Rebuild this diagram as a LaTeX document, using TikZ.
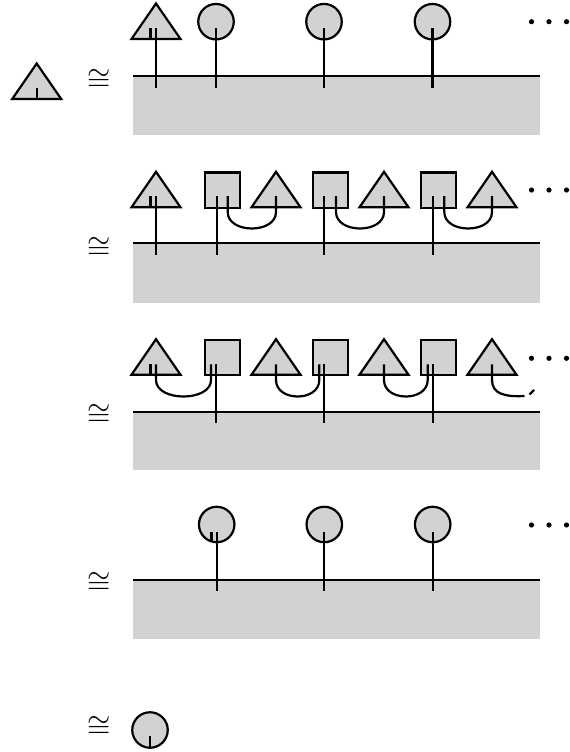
\documentclass[tikz,border=0pt]{standalone}
\definecolor{shade}{RGB}{210,210,210}
\tikzset{
  shp/.style={draw=black, fill=shade, line width=2.2pt},
  ball/.style={shp, circle, minimum size=35.5pt, inner sep=0pt},
  box/.style={shp, rectangle, minimum width=35.2pt, minimum height=35.2pt, inner sep=0pt},
  wire/.style={draw=black, line width=2.2pt},
  band/.style={fill=shade},
  bandline/.style={draw=black, line width=2.2pt},
  dotmark/.style={fill=black, circle, inner sep=0pt, minimum size=5.2pt},
  iso/.style={inner sep=0pt}
}
% triangle: name, x of apex, y of base
\newcommand\mytri[3]{%
  \draw[shp] (#2-24.5,#3) -- (#2,#3-35.5) -- (#2+24.5,#3) -- cycle;
  \coordinate (#1) at (#2,#3);}
\newcommand\mydots[2]{%
  \node[dotmark] (#1a) at (531.5,#2) {};
  \node[dotmark] (#1b) at (549,#2) {};
  \node[dotmark] (#1c) at (566.5,#2) {};}
\newcommand\bigcong{\scalebox{3}{$\cong$}}
\begin{document}
\begin{tikzpicture}[x=1pt,y=-1pt]
\useasboundingbox (0,0) rectangle (570,752);

% ---------- row 1 ----------
\mytri{t0}{36.7}{99}
\draw[wire] (36.7,88) coordinate (t0s) -- (t0);
\node[iso] (eq1) at (98.7,80) {\bigcong};
\fill[band] (133,76) rectangle (540,135);
\draw[bandline] (133,76) coordinate (l1a) -- (540,76) coordinate (l1b);
\mytri{t1}{156}{39}
\node[ball] (c11) at (216,21.7) {};
\node[ball] (c12) at (324,21.7) {};
\node[ball] (c13) at (432.5,21.7) {};
\draw[wire] (150.5,28) -- (150.5,39);
\draw[wire] (156,28) -- (156,88);
\draw[wire] (216,28) -- (216,88);
\draw[wire] (324,28) -- (324,88);
\draw[wire] (432.5,28) -- (432.5,88);
\mydots{d1}{21.7}

% ---------- row 2 ----------
\node[iso] (eq2) at (98.7,248) {\bigcong};
\fill[band] (133,243.3) rectangle (540,303);
\draw[bandline] (133,243.3) -- (540,243.3);
\mytri{t21}{156}{207.3}
\mytri{t22}{276}{207.3}
\mytri{t23}{384}{207.3}
\mytri{t24}{492}{207.3}
\node[box] (s21) at (222.3,190) {};
\node[box] (s22) at (330.3,190) {};
\node[box] (s23) at (438.3,190) {};
\draw[wire] (150.5,196) -- (150.5,207.3);
\draw[wire] (156,196) -- (156,255);
\draw[wire] (216.7,196) -- (216.7,255);
\draw[wire] (324.3,196) -- (324.3,255);
\draw[wire] (432.7,196) -- (432.7,255);
\draw[wire] (227.7,196) -- (227.7,212) .. controls (227.7,234) and (276,234) .. (276,212) -- (276,196);
\draw[wire] (336,196) -- (336,212) .. controls (336,234) and (384,234) .. (384,212) -- (384,196);
\draw[wire] (444.3,196) -- (444.3,212) .. controls (444.3,234) and (492,234) .. (492,212) -- (492,196);
\mydots{d2}{190}

% ---------- row 3 ----------
\node[iso] (eq3) at (98.7,415) {\bigcong};
\fill[band] (133,411.7) rectangle (540,470);
\draw[bandline] (133,411.7) -- (540,411.7);
\mytri{t31}{156}{374.7}
\mytri{t32}{276}{374.7}
\mytri{t33}{384}{374.7}
\mytri{t34}{492}{374.7}
\node[box] (s31) at (222.3,357.5) {};
\node[box] (s32) at (330.3,357.5) {};
\node[box] (s33) at (438.3,357.5) {};
\draw[wire] (150.5,364.3) -- (150.5,374.7);
\draw[wire] (156,364.3) -- (156,380) .. controls (156,402) and (211,402) .. (211,380) -- (211,364.3);
\draw[wire] (276,364.3) -- (276,380) .. controls (276,402) and (319.3,402) .. (319.3,380) -- (319.3,364.3);
\draw[wire] (384,364.3) -- (384,380) .. controls (384,402) and (427.7,402) .. (427.7,380) -- (427.7,364.3);
\draw[wire] (216.3,364.3) -- (216.3,423.3);
\draw[wire] (324.3,364.3) -- (324.3,423.3);
\draw[wire] (432.7,364.3) -- (432.7,423.3);
\draw[wire] (492,364.3) -- (492,380) .. controls (492,394) and (505,397) .. (524.5,396);
\draw[wire] (529.5,394.5) -- (534,390);
\mydots{d3}{358.3}

% ---------- row 4 ----------
\node[iso] (eq4) at (98.7,583) {\bigcong};
\fill[band] (133,580) rectangle (540,639.3);
\draw[bandline] (133,580) -- (540,580);
\node[ball] (c41) at (216.7,524.5) {};
\node[ball] (c42) at (324.3,524.5) {};
\node[ball] (c43) at (432.7,524.5) {};
\draw[wire] (211.5,531.7) -- (211.5,541.5);
\draw[wire] (216.7,531.7) -- (216.7,591);
\draw[wire] (324.3,531.7) -- (324.3,591);
\draw[wire] (432.7,531.7) -- (432.7,591);
\mydots{d4}{525}

% ---------- row 5 ----------
\node[iso] (eq5) at (98.7,727) {\bigcong};
\node[ball] (c5) at (150,730) {};
\draw[wire] (150,736) -- (c5.south);
\end{tikzpicture}
\end{document}
